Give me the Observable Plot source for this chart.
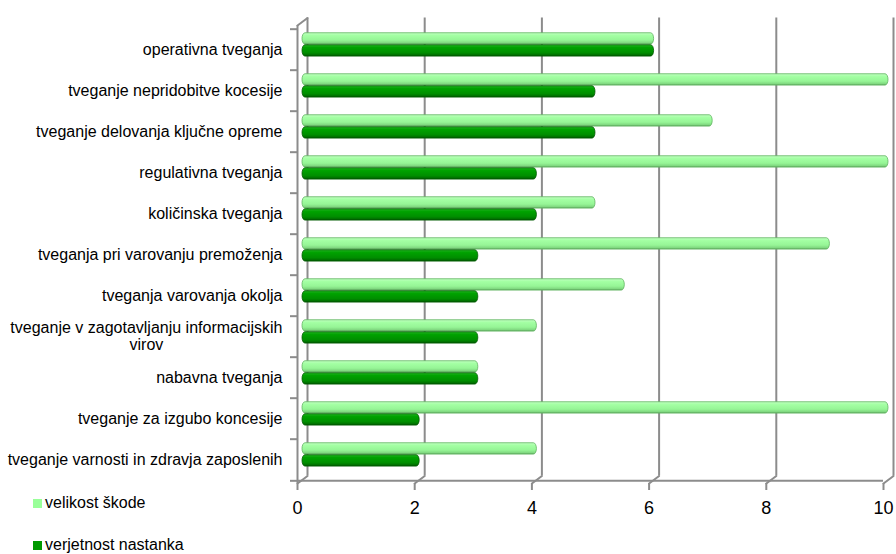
<!DOCTYPE html>
<html>
<head>
<meta charset="utf-8">
<script src="https://cdn.jsdelivr.net/npm/d3@7"></script>
<script src="https://cdn.jsdelivr.net/npm/@observablehq/plot@0.6"></script>
<style>
  html, body { margin: 0; padding: 0; background: #fff; }
  #wrap { position: relative; width: 896px; height: 554px; font-family: "Liberation Sans", Arial, sans-serif; }
  #legend { position: absolute; left: 33px; top: 494px; font-size: 16px; color: #000; }
  #legend .item { display: flex; align-items: center; height: 18px; margin-bottom: 24px; }
  #legend .sw { width: 9px; height: 9px; margin-right: 3px; }
</style>
</head>
<body>
<div id="wrap"><div id="chart"></div><div id="legend"></div></div>
<script>
const categories = [
  "operativna tveganja",
  "tveganje nepridobitve kocesije",
  "tveganje delovanja ključne opreme",
  "regulativna tveganja",
  "količinska tveganja",
  "tveganja pri varovanju premoženja",
  "tveganja varovanja okolja",
  "tveganje v zagotavljanju informacijskih virov",
  "nabavna tveganja",
  "tveganje za izgubo koncesije",
  "tveganje varnosti in zdravja zaposlenih"
];
const velikostSkode = [6, 10, 7, 10, 5, 9, 5.5, 4, 3, 10, 4];
const verjetnostNastanka = [6, 5, 5, 4, 4, 3, 3, 3, 3, 2, 2];
const seriesNames = ["velikost škode", "verjetnost nastanka"];
const seriesColors = ["#99ff99", "#009900"];
const xTicks = [0, 2, 4, 6, 8, 10];

const light = categories.map((c, i) => ({category: c, value: velikostSkode[i]}));
const dark = categories.map((c, i) => ({category: c, value: verjetnostNastanka[i]}));

const W = 896, H = 530, mTop = 25, mBottom = 47, mLeft = 297, mRight = 13;
const bw = (H - mTop - mBottom) / categories.length;
const depthX = 10, depthY = -7.5;
const barH = 12;
const gray = "#8c8c8c";
const spike = {draw(ctx, l) { ctx.moveTo(0, 0); ctx.lineTo(0, -l); }};

const chart = Plot.plot({
  width: W, height: H,
  marginTop: mTop, marginBottom: mBottom, marginLeft: mLeft, marginRight: mRight,
  style: {fontFamily: "Liberation Sans, Arial, sans-serif", background: "#fff", overflow: "visible"},
  x: {domain: [0, 10], axis: null},
  y: {domain: categories, padding: 0, axis: null},
  marks: [
    // back wall gridlines
    Plot.ruleX(xTicks, {x: d => d, dx: depthX, dy: depthY, stroke: gray, strokeWidth: 2}),
    // front left edge
    Plot.ruleX([0], {x: d => d, stroke: gray, strokeWidth: 2}),
    // floor front edge
    Plot.ruleY([categories[categories.length - 1]], {y: d => d, x1: 0, x2: 10, dy: bw / 2, stroke: gray, strokeWidth: 2}),
    // depth connectors
    Plot.vector(xTicks, {x: d => d, frameAnchor: "bottom", length: 12.5, rotate: 53.13, anchor: "start", shape: spike, stroke: gray, strokeWidth: 2}),
    Plot.vector([0], {x: d => d, frameAnchor: "top", length: 12.5, rotate: 53.13, anchor: "start", shape: spike, stroke: gray, strokeWidth: 2}),
    // category boundary ticks
    Plot.axisY({label: null, tickSize: 7, tickFormat: () => "", dy: -bw / 2, stroke: gray, strokeWidth: 2}),
    Plot.axisY({label: null, ticks: [categories[categories.length - 1]], tickSize: 7, tickFormat: () => "", dy: bw / 2, stroke: gray, strokeWidth: 2}),
    // category labels
    Plot.axisY({label: null, tickSize: 0, tickPadding: 15, fontSize: 16, fill: "#000", lineHeight: 1.08, dy: -1,
      tickFormat: d => d.replace(" virov", "\nvirov")}),
    // x axis
    Plot.axisX({label: null, ticks: xTicks, tickSize: 7, tickPadding: 11, fontSize: 18, fill: "#000", stroke: gray, strokeWidth: 2, tickFormat: d => String(d)}),
    // bars
    Plot.barX(light, {x: "value", y: "category", dx: 5, dy: depthY / 2, insetTop: 7.5, insetBottom: bw - 7.5 - barH,
      fill: "url(#gLight)", stroke: "#5fb45f", strokeWidth: 0.8, rx: 3, ry: 6}),
    Plot.barX(dark, {x: "value", y: "category", dx: 5, dy: depthY / 2, insetTop: 7.5 + barH, insetBottom: bw - 7.5 - 2 * barH,
      fill: "url(#gDark)", stroke: "#005a00", strokeWidth: 0.8, rx: 3, ry: 6})
  ]
});

const defs = d3.select(chart).insert("defs", ":first-child");
function grad(id, stops) {
  const g = defs.append("linearGradient").attr("id", id).attr("x1", 0).attr("y1", 0).attr("x2", 0).attr("y2", 1);
  stops.forEach(([o, c]) => g.append("stop").attr("offset", o).attr("stop-color", c));
}
grad("gLight", [[0, "#c0ffc0"], [0.25, "#a3ffa3"], [0.65, "#96f596"], [0.88, "#80d880"], [1, "#5ea65e"]]);
grad("gDark", [[0, "#22b222"], [0.25, "#00a200"], [0.7, "#008e00"], [0.9, "#007000"], [1, "#005000"]]);

document.getElementById("chart").appendChild(chart);

// center the wrapped second line under the first
d3.select(chart).selectAll("text").each(function() {
  const ts = this.querySelectorAll("tspan");
  if (ts.length === 2) {
    const w1 = ts[0].getComputedTextLength(), w2 = ts[1].getComputedTextLength();
    ts[1].setAttribute("x", -(w1 - w2) / 2);
  }
});

const legend = d3.select("#legend");
seriesNames.forEach((n, i) => {
  const it = legend.append("div").attr("class", "item");
  it.append("div").attr("class", "sw").style("background", seriesColors[i]);
  it.append("span").text(n);
});
</script>
</body>
</html>
